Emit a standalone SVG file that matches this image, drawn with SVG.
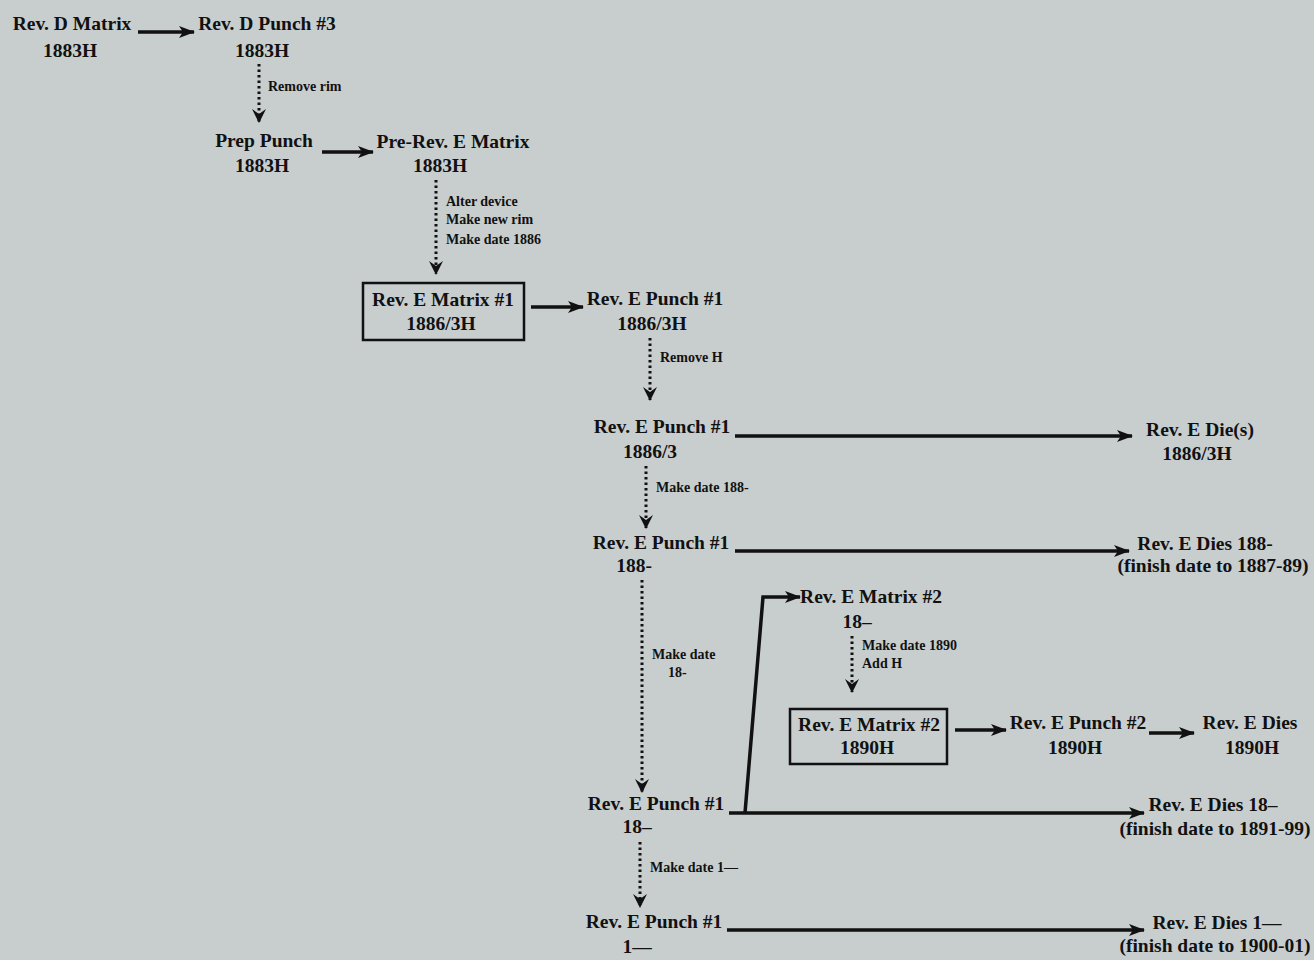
<svg xmlns="http://www.w3.org/2000/svg" width="1314" height="960" viewBox="0 0 1314 960">
<defs>
<style>
.t{font-family:"Liberation Serif","Times New Roman",serif;font-weight:bold;font-size:19.5px;fill:#111;text-anchor:middle}
.s{font-family:"Liberation Serif","Times New Roman",serif;font-weight:bold;font-size:14px;fill:#111}
.solid{stroke:#111;stroke-width:3.5;fill:none}
.dot{stroke:#111;stroke-width:3;fill:none;stroke-dasharray:2.5 3}
.box{fill:none;stroke:#111;stroke-width:2.5}
</style>
<marker id="ah" viewBox="0 0 16 12" refX="15" refY="6" markerWidth="16" markerHeight="12" markerUnits="userSpaceOnUse" orient="auto">
<path d="M0,0 L16,6 L0,12 L4,6 Z" fill="#111"/>
</marker>
<marker id="dh" viewBox="0 0 14 14" refX="13" refY="7" markerWidth="14" markerHeight="14" markerUnits="userSpaceOnUse" orient="auto">
<path d="M0,0 L14,7 L0,14 L5,7 Z" fill="#111"/>
</marker>
</defs>
<rect width="1314" height="960" fill="#c8cdce"/>

<g id="connectors">
<line class="solid" x1="138" y1="32" x2="194" y2="32" marker-end="url(#ah)"/>
<line class="dot" x1="259" y1="64" x2="259" y2="122" marker-end="url(#dh)"/>
<line class="solid" x1="322" y1="152" x2="373" y2="152" marker-end="url(#ah)"/>
<line class="dot" x1="436" y1="180" x2="436" y2="274" marker-end="url(#dh)"/>
<line class="solid" x1="531" y1="307" x2="583" y2="307" marker-end="url(#ah)"/>
<line class="dot" x1="650" y1="338" x2="650" y2="400" marker-end="url(#dh)"/>
<line class="solid" x1="735" y1="436" x2="1132" y2="436" marker-end="url(#ah)"/>
<line class="dot" x1="646" y1="466" x2="646" y2="528" marker-end="url(#dh)"/>
<line class="solid" x1="735" y1="551" x2="1129" y2="551" marker-end="url(#ah)"/>
<line class="dot" x1="642" y1="580" x2="642" y2="792" marker-end="url(#dh)"/>
<line class="solid" x1="729" y1="813" x2="1144" y2="813" marker-end="url(#ah)"/>
<polyline class="solid" points="745,813 763,597 800,597" marker-end="url(#ah)"/>
<line class="dot" x1="852" y1="636" x2="852" y2="692" marker-end="url(#dh)"/>
<line class="solid" x1="955" y1="730" x2="1006" y2="730" marker-end="url(#ah)"/>
<line class="solid" x1="1149" y1="733" x2="1194" y2="733" marker-end="url(#ah)"/>
<line class="dot" x1="640" y1="842" x2="640" y2="907" marker-end="url(#dh)"/>
<line class="solid" x1="727" y1="930" x2="1144" y2="930" marker-end="url(#ah)"/>
<text class="s" x="268" y="91">Remove rim</text>
<text class="s" x="446" y="206">Alter device</text>
<text class="s" x="446" y="224">Make new rim</text>
<text class="s" x="446" y="244">Make date 1886</text>
<text class="s" x="660" y="362">Remove H</text>
<text class="s" x="656" y="492">Make date 188-</text>
<text class="s" x="652" y="659">Make date</text>
<text class="s" x="668" y="677">18-</text>
<text class="s" x="862" y="650">Make date 1890</text>
<text class="s" x="862" y="668">Add H</text>
<text class="s" x="650" y="872">Make date 1—</text>
</g>

<g id="revD-matrix"><text class="t" x="72" y="30">Rev. D Matrix</text><text class="t" x="70" y="57">1883H</text></g>
<g id="revD-punch3"><text class="t" x="267" y="30">Rev. D Punch #3</text><text class="t" x="262" y="57">1883H</text></g>
<g id="prep-punch"><text class="t" x="264" y="147">Prep Punch</text><text class="t" x="262" y="172">1883H</text></g>
<g id="pre-revE-matrix"><text class="t" x="453" y="148">Pre-Rev. E Matrix</text><text class="t" x="440" y="172">1883H</text></g>
<g id="revE-matrix1"><rect class="box" x="363" y="283" width="161" height="57"/><text class="t" x="443" y="306">Rev. E Matrix #1</text><text class="t" x="441" y="330">1886/3H</text></g>
<g id="revE-punch1-a"><text class="t" x="655" y="305">Rev. E Punch #1</text><text class="t" x="652" y="330">1886/3H</text></g>
<g id="revE-punch1-b"><text class="t" x="662" y="433">Rev. E Punch #1</text><text class="t" x="650" y="458">1886/3</text></g>
<g id="revE-dies-a"><text class="t" x="1200" y="436">Rev. E Die(s)</text><text class="t" x="1197" y="460">1886/3H</text></g>
<g id="revE-punch1-c"><text class="t" x="661" y="549">Rev. E Punch #1</text><text class="t" x="634" y="572">188-</text></g>
<g id="revE-dies-b"><text class="t" x="1205" y="550">Rev. E Dies 188-</text><text class="t" x="1213" y="572">(finish date to 1887-89)</text></g>
<g id="revE-matrix2-a"><text class="t" x="871" y="603">Rev. E Matrix #2</text><text class="t" x="857" y="628">18–</text></g>
<g id="revE-matrix2-b"><rect class="box" x="790" y="709" width="157" height="55"/><text class="t" x="869" y="731">Rev. E Matrix #2</text><text class="t" x="867" y="754">1890H</text></g>
<g id="revE-punch2"><text class="t" x="1078" y="729">Rev. E Punch #2</text><text class="t" x="1075" y="754">1890H</text></g>
<g id="revE-dies-c"><text class="t" x="1250" y="729">Rev. E Dies</text><text class="t" x="1252" y="754">1890H</text></g>
<g id="revE-punch1-d"><text class="t" x="656" y="810">Rev. E Punch #1</text><text class="t" x="637" y="833">18–</text></g>
<g id="revE-dies-d"><text class="t" x="1213" y="811">Rev. E Dies 18–</text><text class="t" x="1215" y="835">(finish date to 1891-99)</text></g>
<g id="revE-punch1-e"><text class="t" x="654" y="928">Rev. E Punch #1</text><text class="t" x="637" y="953">1—</text></g>
<g id="revE-dies-e"><text class="t" x="1217" y="929">Rev. E Dies 1—</text><text class="t" x="1215" y="952">(finish date to 1900-01)</text></g>
</svg>
